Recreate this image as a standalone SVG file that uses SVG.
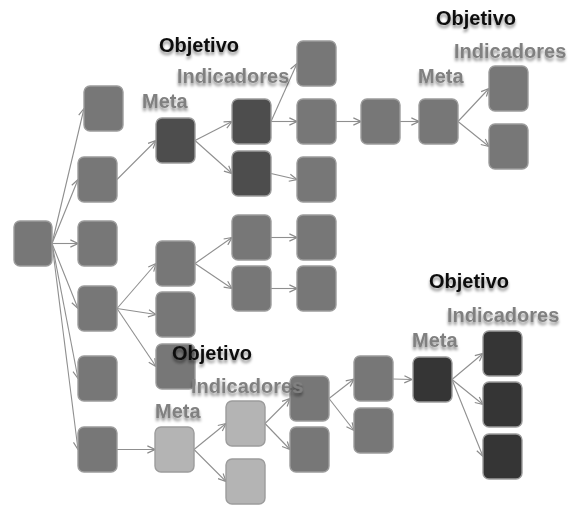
<svg xmlns="http://www.w3.org/2000/svg" width="570" height="505" viewBox="0 0 570 505">
  <defs>
    <marker id="arrow" viewBox="0 0 10 10" refX="9.5" refY="5" markerWidth="9" markerHeight="9" markerUnits="userSpaceOnUse" orient="auto">
      <path d="M1,1 L9.5,5 L1,9" fill="none" stroke="#8a8a8a" stroke-width="1.3"/>
    </marker>
    <filter id="textShadow" x="-10%" y="-30%" width="120%" height="170%">
      <feGaussianBlur in="SourceAlpha" stdDeviation="1.6" result="blur"/>
      <feOffset in="blur" dx="0" dy="2.5" result="off"/>
      <feFlood flood-color="#000" flood-opacity="0.45"/>
      <feComposite in2="off" operator="in" result="shadow"/>
      <feMerge>
        <feMergeNode in="shadow"/>
        <feMergeNode in="SourceGraphic"/>
      </feMerge>
    </filter>
    <filter id="soft" x="-5%" y="-5%" width="110%" height="110%">
      <feGaussianBlur stdDeviation="0.4"/>
    </filter>
  </defs>
  <style>
    .box { stroke: #9c9c9c; stroke-width: 1.4; }
    .mid { fill: #777777; }
    .dark { fill: #4d4d4d; }
    .darkest { fill: #353535; }
    .light { fill: #b4b4b4; }
    .edge { fill: none; stroke: #8f8f8f; stroke-width: 1.1; marker-end: url(#arrow); }
    .obj { font-family: "Liberation Sans", Arial, sans-serif; font-weight: bold; font-size: 20px; fill: #111111; filter: url(#textShadow); }
    .lbl { font-family: "Liberation Sans", Arial, sans-serif; font-weight: bold; font-size: 20px; fill: #808080; filter: url(#textShadow); }
  </style>

  <rect width="570" height="505" fill="#ffffff"/>

  <!-- connectors -->
  <g id="connectors" filter="url(#soft)">
    <!-- root to first column -->
    <path class="edge" d="M52,243.5 L84,108.5"/>
    <path class="edge" d="M52,243.5 L78,179.5"/>
    <path class="edge" d="M52,243.5 L78,243.5"/>
    <path class="edge" d="M52,243.5 L78,308.5"/>
    <path class="edge" d="M52,243.5 L78,378.5"/>
    <path class="edge" d="M52,243.5 L78,449.5"/>
    <!-- upper branch -->
    <path class="edge" d="M117,179.5 L156,140.5"/>
    <path class="edge" d="M195,140.5 L232,121.5"/>
    <path class="edge" d="M195,140.5 L232,173.5"/>
    <path class="edge" d="M271,121.5 L297,63.5"/>
    <path class="edge" d="M271,121.5 L297,121.5"/>
    <path class="edge" d="M271,173.5 L297,179.5"/>
    <path class="edge" d="M336,121.5 L361,121.5"/>
    <path class="edge" d="M400,121.5 L419,121.5"/>
    <path class="edge" d="M458,121.5 L489,88.5"/>
    <path class="edge" d="M458,121.5 L489,146.5"/>
    <!-- middle branch -->
    <path class="edge" d="M117,308.5 L156,263.5"/>
    <path class="edge" d="M117,308.5 L156,314.5"/>
    <path class="edge" d="M117,308.5 L156,366.5"/>
    <path class="edge" d="M195,263.5 L232,237.5"/>
    <path class="edge" d="M195,263.5 L232,288.5"/>
    <path class="edge" d="M271,237.5 L297,237.5"/>
    <path class="edge" d="M271,288.5 L297,288.5"/>
    <!-- lower branch -->
    <path class="edge" d="M117,449.5 L155,449.5"/>
    <path class="edge" d="M194,449.5 L226,423.5"/>
    <path class="edge" d="M194,449.5 L226,481.5"/>
    <path class="edge" d="M265,423.5 L290,398.5"/>
    <path class="edge" d="M265,423.5 L290,449.5"/>
    <path class="edge" d="M329,398.5 L354,379"/>
    <path class="edge" d="M329,398.5 L354,430.5"/>
    <path class="edge" d="M393,379 L412,379.5"/>
    <path class="edge" d="M452,379.5 L483,353.5"/>
    <path class="edge" d="M452,379.5 L483,404.5"/>
    <path class="edge" d="M452,379.5 L483,456.5"/>
  </g>

  <!-- nodes -->
  <g filter="url(#soft)">
    <g id="root"><rect class="box mid" x="14" y="221" width="38" height="45" rx="6"/></g>

    <g id="level1-a"><rect class="box mid" x="84" y="86" width="39" height="45" rx="6"/></g>
    <g id="level1-b"><rect class="box mid" x="78" y="157" width="39" height="45" rx="6"/></g>
    <g id="level1-c"><rect class="box mid" x="78" y="221" width="39" height="45" rx="6"/></g>
    <g id="level1-d"><rect class="box mid" x="78" y="286" width="39" height="45" rx="6"/></g>
    <g id="level1-e"><rect class="box mid" x="78" y="356" width="39" height="45" rx="6"/></g>
    <g id="level1-f"><rect class="box mid" x="78" y="427" width="39" height="45" rx="6"/></g>

    <g id="meta-upper"><rect class="box dark" x="156" y="118" width="39" height="45" rx="6"/></g>
    <g id="ind-upper-1"><rect class="box dark" x="232" y="99" width="39" height="45" rx="6"/></g>
    <g id="ind-upper-2"><rect class="box dark" x="232" y="151" width="39" height="45" rx="6"/></g>

    <g id="col3-1"><rect class="box mid" x="297" y="41" width="39" height="45" rx="6"/></g>
    <g id="col3-2"><rect class="box mid" x="297" y="99" width="39" height="45" rx="6"/></g>
    <g id="col3-3"><rect class="box mid" x="297" y="157" width="39" height="45" rx="6"/></g>
    <g id="col3-4"><rect class="box mid" x="297" y="215" width="39" height="45" rx="6"/></g>
    <g id="col3-5"><rect class="box mid" x="297" y="266" width="39" height="45" rx="6"/></g>

    <g id="col4-1"><rect class="box mid" x="361" y="99" width="39" height="45" rx="6"/></g>
    <g id="meta-right"><rect class="box mid" x="419" y="99" width="39" height="45" rx="6"/></g>
    <g id="ind-right-1"><rect class="box mid" x="489" y="66" width="39" height="45" rx="6"/></g>
    <g id="ind-right-2"><rect class="box mid" x="489" y="124" width="39" height="45" rx="6"/></g>

    <g id="mid-1"><rect class="box mid" x="156" y="241" width="39" height="45" rx="6"/></g>
    <g id="mid-2"><rect class="box mid" x="156" y="292" width="39" height="45" rx="6"/></g>
    <g id="mid-3"><rect class="box mid" x="156" y="344" width="39" height="45" rx="6"/></g>
    <g id="mid-4"><rect class="box mid" x="232" y="215" width="39" height="45" rx="6"/></g>
    <g id="mid-5"><rect class="box mid" x="232" y="266" width="39" height="45" rx="6"/></g>

    <g id="meta-lower"><rect class="box light" x="155" y="427" width="39" height="45" rx="6"/></g>
    <g id="ind-lower-1"><rect class="box light" x="226" y="401" width="39" height="45" rx="6"/></g>
    <g id="ind-lower-2"><rect class="box light" x="226" y="459" width="39" height="45" rx="6"/></g>

    <g id="low-1"><rect class="box mid" x="290" y="376" width="39" height="45" rx="6"/></g>
    <g id="low-2"><rect class="box mid" x="290" y="427" width="39" height="45" rx="6"/></g>
    <g id="low-3"><rect class="box mid" x="354" y="356" width="39" height="45" rx="6"/></g>
    <g id="low-4"><rect class="box mid" x="354" y="408" width="39" height="45" rx="6"/></g>

    <g id="meta-bottom"><rect class="box darkest" x="413" y="357" width="39" height="45" rx="6"/></g>
    <g id="ind-bottom-1"><rect class="box darkest" x="483" y="331" width="39" height="45" rx="6"/></g>
    <g id="ind-bottom-2"><rect class="box darkest" x="483" y="382" width="39" height="45" rx="6"/></g>
    <g id="ind-bottom-3"><rect class="box darkest" x="483" y="434" width="39" height="45" rx="6"/></g>
  </g>

  <!-- labels -->
  <g id="labels">
    <text class="obj" x="159" y="52">Objetivo</text>
    <text class="lbl" x="177" y="83">Indicadores</text>
    <text class="lbl" x="142" y="108">Meta</text>

    <text class="obj" x="436" y="25">Objetivo</text>
    <text class="lbl" x="454" y="58">Indicadores</text>
    <text class="lbl" x="418" y="83">Meta</text>

    <text class="obj" x="172" y="360">Objetivo</text>
    <text class="lbl" x="191" y="393">Indicadores</text>
    <text class="lbl" x="155" y="418">Meta</text>

    <text class="obj" x="429" y="288">Objetivo</text>
    <text class="lbl" x="447" y="322">Indicadores</text>
    <text class="lbl" x="412" y="347">Meta</text>
  </g>
</svg>
